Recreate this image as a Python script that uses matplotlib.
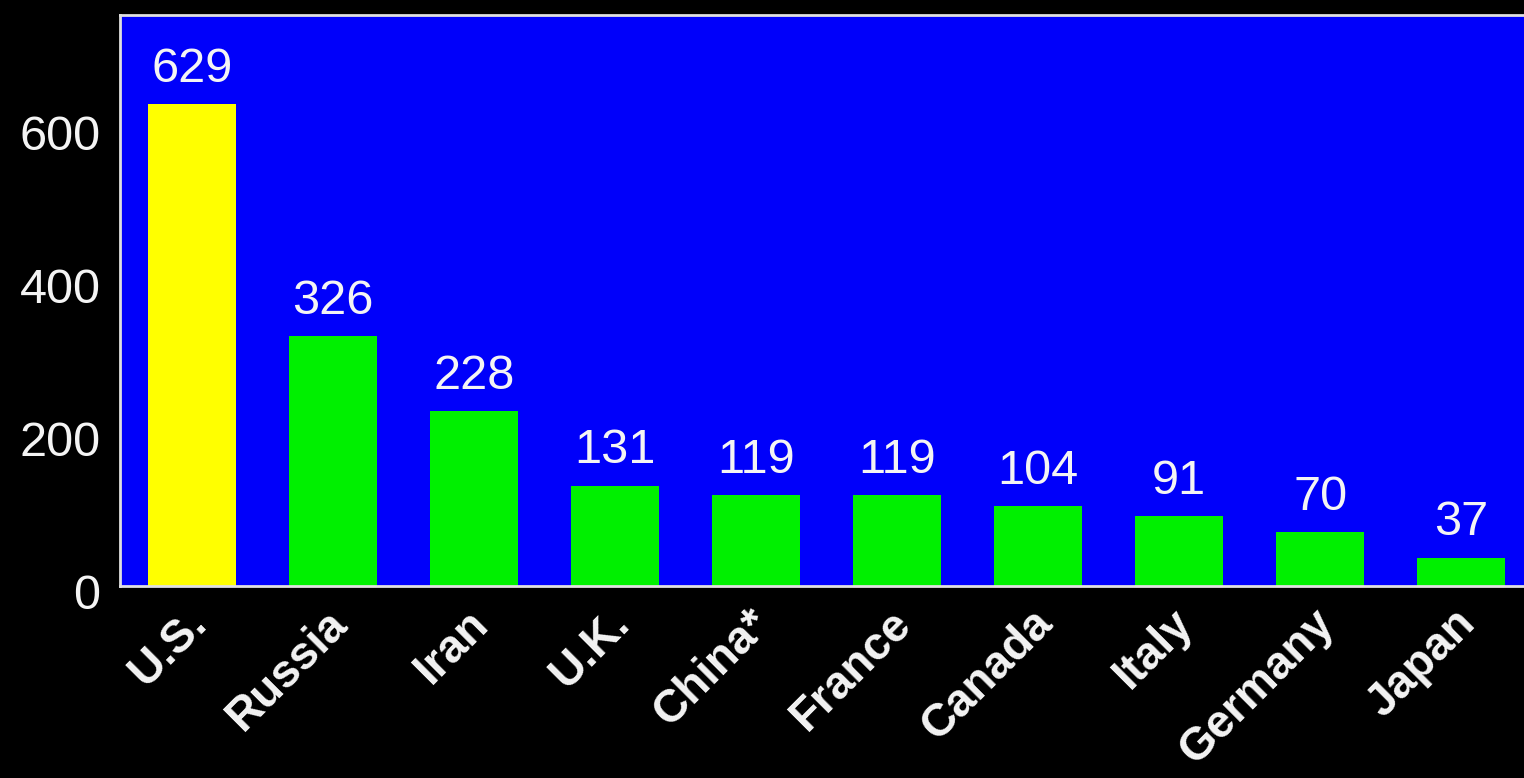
import matplotlib.pyplot as plt
import matplotlib.transforms as mtransforms

countries = ['U.S.', 'Russia', 'Iran', 'U.K.', 'China*', 'France',
             'Canada', 'Italy', 'Germany', 'Japan']
values = [629, 326, 228, 131, 119, 119, 104, 91, 70, 37]
yticks = [0, 200, 400, 600]

plt.rcParams['font.family'] = ['Liberation Sans', 'DejaVu Sans']

fig = plt.figure(figsize=(15.24, 7.78), dpi=100, facecolor='black')
ax = fig.add_axes([0.0787, 0.2468, 0.93, 0.734])
ax.set_facecolor('#0000fa')

colors = ['#ffff00'] + ['#00f000'] * (len(values) - 1)
x = range(len(countries))
ax.bar(x, values, width=0.62, color=colors, zorder=2)

# value labels above each bar
for i, v in enumerate(values):
    ax.text(i, v + 16, str(v), ha='center', va='bottom', color='#f4f4f4',
            fontsize=35)

ax.set_xlim(-0.51, 9.54)
ax.set_ylim(0, 746)

ax.set_yticks(yticks)
ax.set_yticklabels([str(t) for t in yticks], fontsize=35, color='#f4f4f4')
ax.tick_params(axis='y', length=0, pad=14)
shift = mtransforms.ScaledTranslation(0, -6 / 100, fig.dpi_scale_trans)
for lab in ax.get_yticklabels():
    lab.set_transform(lab.get_transform() + shift)

ax.set_xticks(list(x))
ax.set_xticklabels(countries, rotation=45, ha='right', va='top',
                   rotation_mode='anchor', fontsize=33, fontweight='bold',
                   color='#f4f4f4')
ax.tick_params(axis='x', length=0, pad=11)
xshift = mtransforms.ScaledTranslation(-8 / 100, 0, fig.dpi_scale_trans)
for lab in ax.get_xticklabels():
    lab.set_transform(lab.get_transform() + xshift)

for side in ['left', 'top', 'bottom']:
    ax.spines[side].set_color('#e0e0e0')
    ax.spines[side].set_linewidth(2)
ax.spines['right'].set_visible(False)

fig.savefig('out.png', dpi=100, facecolor='black')
